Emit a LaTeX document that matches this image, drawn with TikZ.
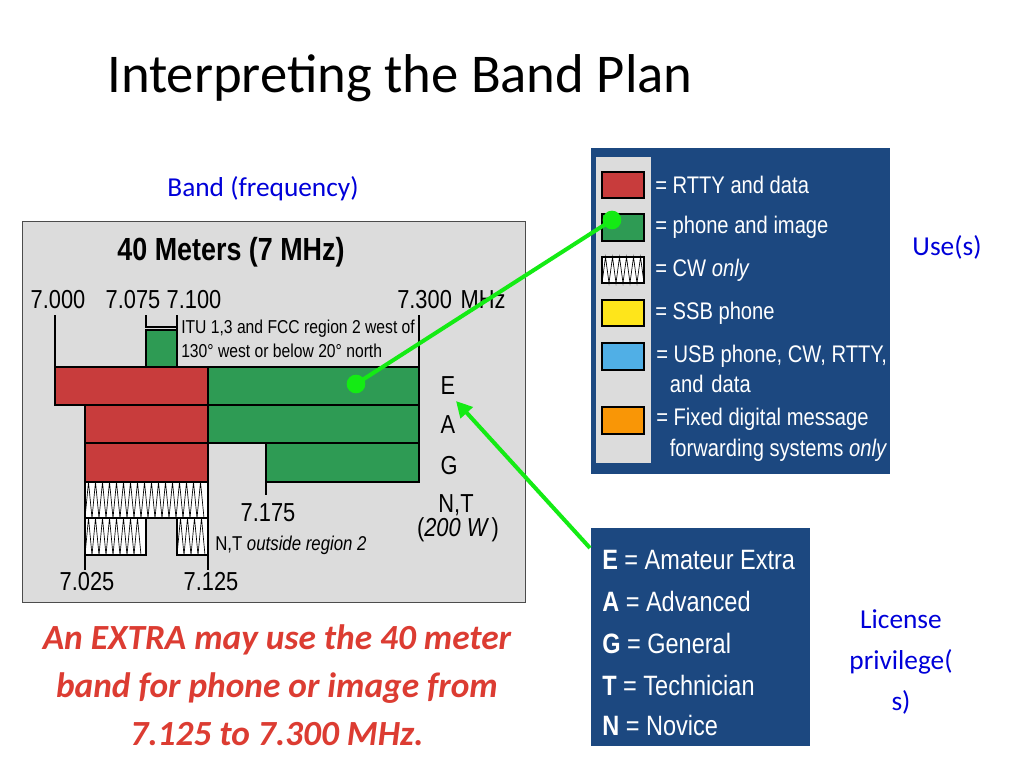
\documentclass[tikz,border=0pt]{standalone}
\usepackage{fontspec}
\setmainfont{Carlito}
\newfontfamily\narrowfont[FakeStretch=0.84]{Liberation Sans}
\usepackage{xcolor}
\usepackage{tikz}
\usetikzlibrary{arrows.meta}
\definecolor{bandred}{RGB}{200,60,60}
\definecolor{bandgreen}{RGB}{46,155,84}
\definecolor{chartgray}{RGB}{220,220,220}
\definecolor{legblue}{RGB}{28,72,128}
\definecolor{ptrgreen}{RGB}{20,235,20}
\definecolor{redtxt}{RGB}{220,60,50}
\newcommand{\cwband}[4]{% x1,y1,x2,y2
  \fill[white] (#1,#2) rectangle (#3,#4);
  \pgfmathtruncatemacro{\nz}{(#3-#1)/7}
  \draw[line width=0.5pt] (#1,#4) \foreach \k in {1,...,\nz} { -- ++(3.5,{#2-#4}) -- ++(3.5,{#4-#2})};
  \draw[line width=1.2pt] (#1,#2) rectangle (#3,#4);}
\tikzset{
  band/.style={draw=black,line width=1.2pt},
  tick/.style={line width=1.2pt},
  freq/.style={font=\narrowfont\fontsize{19.5}{19.5}\selectfont,inner sep=0pt},
  lictxt/.style={font=\narrowfont\fontsize{19.5}{19.5}\selectfont,inner sep=0pt},
  legtxt/.style={anchor=west,text=white,font=\narrowfont\fontsize{18}{23}\selectfont,inner sep=0pt,align=left},
  swatch/.style={draw=black,line width=1pt},
  pointer/.style={draw=ptrgreen,line width=3pt},
  bluetxt/.style={text=blue!85!black,font=\fontsize{20.5}{31}\selectfont,inner sep=0pt}
}
\begin{document}
\begin{tikzpicture}[x=0.75pt,y=-0.75pt]
\useasboundingbox (0,0) rectangle (1024,768);
\fill[white] (0,0) rectangle (1024,768);

% title and side labels
\node[anchor=west,inner sep=0pt,font=\fontsize{41}{41}\selectfont] (title) at (107,78) {Interpreting the Band Plan};
\node[bluetxt] (bandlbl) at (263,189) {Band (frequency)};
\node[bluetxt] (uselbl) at (947,247) {Use(s)};
\node[bluetxt,align=center] (liclbl) at (901,662) {License\\privilege(\\s)};
\node[text=redtxt,align=center,inner sep=0pt,font=\bfseries\itshape\fontsize{26.5}{36}\selectfont] (note) at (277,685)
  {An EXTRA may use the 40 meter\\band for phone or image from\\7.125 to 7.300 MHz.};

% band chart
\draw[fill=chartgray,draw=black!70] (22,221) rectangle (525,602);
\node[font=\narrowfont\bfseries\fontsize{24}{24}\selectfont,inner sep=0pt] (chtitle) at (231,252) {40 Meters (7 MHz)};
\node[freq] (f000) at (58,300) {7.000};
\node[freq] (f075) at (133,300) {7.075};
\node[freq] (f100) at (194,300) {7.100};
\node[freq,anchor=west] (f300) at (397,300) {7.300\,\,MHz};
\draw[tick] (55,315) -- (55,367);
\draw[tick] (146,315) -- (146,327) -- (177,327);
\draw[tick] (177,315) -- (177,367);
\draw[tick] (419,315) -- (419,367);
\fill[bandgreen,band] (146,330) rectangle (177,367);
\node[anchor=north west,align=left,inner sep=0pt,font=\narrowfont\fontsize{14}{18}\selectfont] (itu) at (181,320)
  {ITU 1,3 and FCC region 2 west of\\130° west or below 20° north};
% E row
\fill[bandred,band] (55,367) rectangle (208,405);
\fill[bandgreen,band] (208,367) rectangle (419,405);
% A row
\fill[bandred,band] (85,405) rectangle (208,443);
\fill[bandgreen,band] (208,405) rectangle (419,443);
% G row
\fill[bandred,band] (85,443) rectangle (208,482);
\fill[bandgreen,band] (266,443) rectangle (419,482);
\draw[tick] (266,482) -- (266,495);
% N,T rows
\cwband{85}{482}{208}{518}
\cwband{85}{518}{146}{555}
\cwband{177}{518}{208}{555}
\draw[tick] (85,555) -- (85,570);
\draw[tick] (208,555) -- (208,570);
\node[freq] (f175) at (268,513) {7.175};
\node[anchor=west,inner sep=0pt,font=\narrowfont\fontsize{15}{15}\selectfont] (ntout) at (215,545) {N,T \itshape outside region 2};
\node[freq] (f025) at (87,582) {7.025};
\node[freq] (f125) at (211,582) {7.125};
\node[lictxt] (cE) at (448,386) {E};
\node[lictxt] (cA) at (448,425) {A};
\node[lictxt] (cG) at (449,466) {G};
\node[lictxt] (cNT) at (456,505) {N,T};
\node[lictxt] (cW) at (458,530) {(\itshape 200 W\upshape\,)};

% legend of uses
\fill[legblue] (591,148) rectangle (890,474);
\fill[chartgray] (596,157) rectangle (651,463);
\fill[bandred,swatch] (602,172) rectangle (644,198);
\fill[bandgreen,swatch] (602,214) rectangle (644,241);
\cwband{602}{257}{644}{283}
\fill[yellow!85!orange!90!white,swatch] (602,300) rectangle (644,326);
\fill[cyan!80!blue!70!white,swatch] (602,343) rectangle (644,370);
\fill[orange!80!yellow!90!brown,swatch] (602,407) rectangle (644,434);
\node[legtxt] (uRT) at (655,185) {= RTTY and data};
\node[legtxt] (uPH) at (655,227) {= phone and image};
\node[legtxt] (uCW) at (655,270) {= CW \itshape only};
\node[legtxt] (uSSB) at (655,313) {= SSB phone};
\node[legtxt] (uUSB) at (656,369) {= USB phone, CW, RTTY,\\\ \,\,and\,\,data};
\node[legtxt] (uFX) at (656,435) {= Fixed digital message\\\ \,\,forwarding systems \itshape only};

% legend of licenses
\fill[legblue] (591,528) rectangle (810,746);
\node[legtxt,font=\narrowfont\fontsize{21}{21}\selectfont] (lE) at (602,560) {\textbf{E} = Amateur Extra};
\node[legtxt,font=\narrowfont\fontsize{21}{21}\selectfont] (lA) at (602,601) {\textbf{A} = Advanced};
\node[legtxt,font=\narrowfont\fontsize{21}{21}\selectfont] (lG) at (602,643) {\textbf{G} = General};
\node[legtxt,font=\narrowfont\fontsize{21}{21}\selectfont] (lT) at (602,685) {\textbf{T} = Technician};
\node[legtxt,font=\narrowfont\fontsize{21}{21}\selectfont] (lN) at (602,725) {\textbf{N} = Novice};

% pointers
\node[circle,fill=ptrgreen,inner sep=0pt,minimum size=14pt] (dotLeg) at (612,220) {};
\node[circle,fill=ptrgreen,inner sep=0pt,minimum size=14pt] (dotBand) at (356,384) {};
\draw[pointer] (dotLeg.center) -- (dotBand.center);
\coordinate (licStart) at (590,548);
\coordinate (licEnd) at (456,401);
\draw[pointer,-{Triangle[length=12pt,width=12pt]}] (licStart) -- (licEnd);
\end{tikzpicture}
\end{document}
